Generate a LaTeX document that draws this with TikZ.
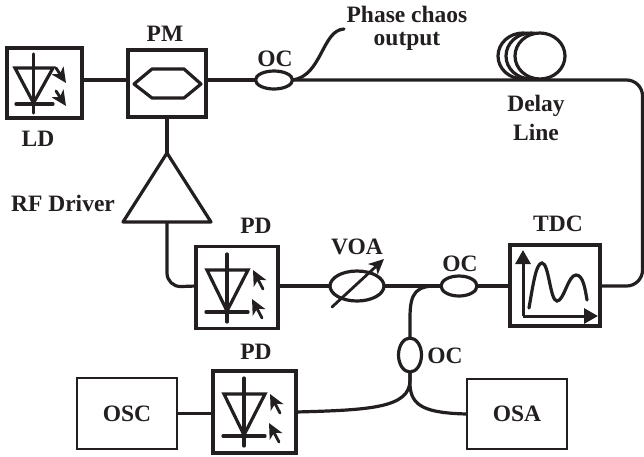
\documentclass[tikz,border=0pt]{standalone}
\usepackage{fontspec}
\setmainfont{Liberation Serif}
\usetikzlibrary{shapes.geometric,arrows.meta}
\definecolor{dialinecolor}{rgb}{0.137, 0.122, 0.125}
\newlength{\du}
\setlength{\du}{1pt}
\tikzset{
  fiber/.style={draw=dialinecolor,line width=3.2\du},
  devbox/.style={draw=dialinecolor,fill=white,line width=3.6\du,inner sep=0pt,outer sep=0pt},
  instbox/.style={draw=dialinecolor,fill=white,line width=2.6\du,inner sep=0pt,outer sep=0pt,font=\fontsize{23.5pt}{26pt}\selectfont\bfseries,text=dialinecolor},
  coupler/.style={ellipse,draw=dialinecolor,fill=white,line width=3.2\du,inner sep=0pt,outer sep=0pt},
  tag/.style={font=\fontsize{23.5pt}{26pt}\selectfont\bfseries,text=dialinecolor,inner sep=0pt},
  hit/.style={-{Stealth[length=15pt,width=14pt,inset=4pt]},draw=dialinecolor,fill=dialinecolor,line width=2.8\du},
  axis/.style={-{Stealth[length=14pt,width=15pt,inset=0pt]},draw=dialinecolor,fill=dialinecolor,line width=3\du},
}
% diode with two incoming rays, #1 and #2 are the stem position
\newcommand{\pdicon}[2]{
\begin{scope}[shift={(#1\du,#2\du)},fiber,line cap=round]
\draw (0\du,-16\du)--(0\du,52\du);
\draw (-20\du,0\du)--(21\du,0\du)--(0\du,41\du)--cycle;
\draw (-21\du,42\du)--(21\du,42\du);
\draw[hit] (36\du,19\du)--(26\du,0\du);
\draw[hit] (35\du,48\du)--(25\du,29\du);
\end{scope}
}

\begin{document}
\begin{tikzpicture}
\pgftransformxscale{1.000000}
\pgftransformyscale{-1.000000}
\useasboundingbox (0\du,0\du) rectangle (644\du,456\du);
% boxes
\node[devbox,minimum width=75\du,minimum height=70\du] (ld) at (44.5\du,83\du){};
\node[devbox,minimum width=78\du,minimum height=67\du] (pm) at (167\du,83.5\du){};
\node[devbox,minimum width=82\du,minimum height=82\du] (pdtop) at (237\du,287.5\du){};
\node[devbox,minimum width=90\du,minimum height=81\du] (tdc) at (555\du,285.5\du){};
\node[devbox,minimum width=83\du,minimum height=82\du] (pdlow) at (254.5\du,412\du){};
\node[instbox,minimum width=100\du,minimum height=71\du] (osc) at (127\du,413.5\du){OSC};
\node[instbox,minimum width=100\du,minimum height=70\du] (osa) at (517\du,414\du){OSA};
% couplers
\node[coupler,minimum width=37\du,minimum height=18\du] (octop) at (274\du,80\du){};
\node[coupler,minimum width=36\du,minimum height=20\du] (ocmid) at (459\du,286\du){};
\node[coupler,minimum width=23\du,minimum height=34\du] (oclow) at (410\du,355\du){};
\node[coupler,minimum width=54\du,minimum height=30\du] (voa) at (357\du,286\du){};
% delay coil
\draw[fiber,fill=white] (523\du,56\du) ellipse [x radius=25\du,y radius=23\du];
\draw[fiber,fill=white] (531\du,56\du) ellipse [x radius=25\du,y radius=23\du];
\draw[fiber,fill=white] (540\du,56\du) ellipse [x radius=25\du,y radius=23\du];
% driver
\coordinate (rftip) at (167\du,153\du);
\coordinate (rfleft) at (123\du,222\du);
\coordinate (rfright) at (211\du,222\du);
\coordinate (rfbase) at (167\du,222\du);
\draw[fiber,line join=round] (rftip)--(rfleft)--(rfright)--cycle;
\coordinate (tapend) at (344\du,29\du);
\coordinate (loopa) at (642.5\du,286\du);
\coordinate (loopb) at (642.5\du,80\du);
% fibers
\draw[fiber] (ld.east |- octop)--(pm.west |- octop);
\draw[fiber] (pm.east |- octop)--(octop.west);
\draw[fiber] (pm.south)--(rftip);
\draw[fiber,line cap=round] (octop.east) .. controls (322\du,76\du) and (322\du,30\du) .. (tapend);
\draw[fiber,rounded corners=16\du] (octop.east)--(loopb)--(loopa)--(tdc.east |- loopa);
\draw[fiber,rounded corners=14\du] (rfbase)--(167\du,287\du)--(pdtop.west |- voa);
\draw[fiber] (pdtop.east |- voa)--(voa.west);
\draw[fiber] (voa.east)--(ocmid.west);
\draw[fiber] (ocmid.east)--(tdc.west |- ocmid);
\draw[fiber] (ocmid.west) .. controls (416\du,285\du) and (410\du,292\du) .. (410\du,318\du)--(oclow.north);
\draw[fiber] (oclow.south)--(410\du,380\du) .. controls (410\du,408\du) and (370\du,410\du) .. (pdlow.east);
\draw[fiber] (oclow.south)--(410\du,385\du) .. controls (411\du,406\du) and (425\du,413\du) .. (osa.west);
\draw[fiber] (osc.east)--(pdlow.west |- osc);
% modulator
\draw[fiber,line join=round] (134\du,84\du)--(152\du,69\du)--(184\du,69\du)--(201\du,84\du)--(184\du,98\du)--(152\du,98\du)--cycle;
% laser
\begin{scope}[fiber,line cap=round]
\draw (33.5\du,54\du)--(33.5\du,113\du);
\draw (15\du,68\du)--(53\du,68\du)--(33.5\du,103\du)--cycle;
\draw (16\du,104\du)--(53\du,104\du);
\draw[hit] (56\du,68\du)--(66\du,83\du);
\draw[hit] (56\du,91\du)--(66\du,106\du);
\end{scope}
% detectors
\pdicon{227}{270}
\pdicon{244}{394}
% attenuator arrow
\draw[hit,line cap=round] (332\du,307\du)--(384\du,259\du);
% scope trace
\draw[axis] (523\du,316\du)--(523\du,250\du);
\draw[axis] (523\du,316\du)--(598\du,316\du);
\draw[fiber,line cap=round] (529\du,308\du) .. controls (533\du,285\du) and (536\du,263\du) .. (542\du,263\du) .. controls (549\du,263\du) and (550\du,301\du) .. (557\du,301\du) .. controls (564\du,301\du) and (568\du,275\du) .. (576\du,275\du) .. controls (583\du,275\du) and (585\du,288\du) .. (587\du,300\du);
% labels
\node[tag] (ldlabel) at (38\du,139\du){LD};
\node[tag] (pmlabel) at (165\du,34\du){PM};
\node[tag] (octoplabel) at (275\du,59\du){OC};
\node[tag] (outlabela) at (407\du,14\du){Phase chaos};
\node[tag] (outlabelb) at (407\du,41\du){output};
\node[tag] (delaylabela) at (536\du,106\du){Delay};
\node[tag] (delaylabelb) at (536\du,132\du){Line};
\node[tag] (rflabel) at (63\du,203\du){RF Driver};
\node[tag] (pdtoplabel) at (256\du,226\du){PD};
\node[tag] (voalabel) at (357\du,247\du){VOA};
\node[tag] (ocmidlabel) at (460\du,264\du){OC};
\node[tag] (tdclabel) at (558\du,224\du){TDC};
\node[tag] (oclowlabel) at (445\du,356\du){OC};
\node[tag] (pdlowlabel) at (256\du,352\du){PD};
\end{tikzpicture}
\end{document}
